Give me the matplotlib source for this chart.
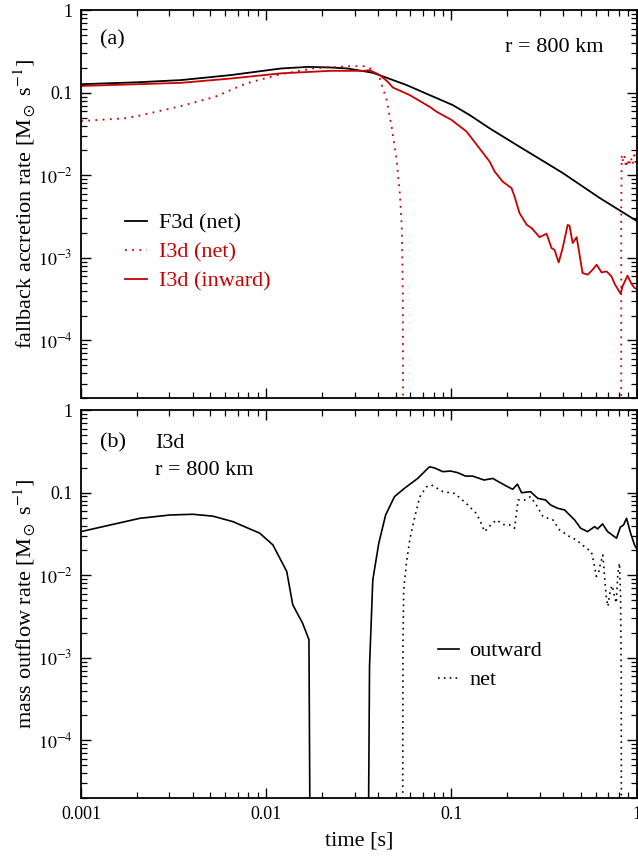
import numpy as np
import matplotlib
matplotlib.use('Agg')
import matplotlib.pyplot as plt
from matplotlib.ticker import LogLocator, FixedLocator, NullFormatter

plt.rcParams['font.family'] = ['Liberation Serif', 'DejaVu Serif']
plt.rcParams['mathtext.fontset'] = 'stix'
plt.rcParams['font.size'] = 16

RED = '#c80000'
FLOOR = 1e-8   # stands for "off the bottom of the plot" (zero / negative rate)

# ---- panel (a): fallback accretion rate ----
t_f3d = [0.001, 0.002, 0.00346, 0.00644, 0.012, 0.0168, 0.022, 0.0275, 0.0376,
         0.0573, 0.0762, 0.1016, 0.1254, 0.1607, 0.225, 0.398, 0.63, 1.0]
f3d_net = [0.127, 0.134, 0.1425, 0.164, 0.197, 0.206, 0.203, 0.197, 0.175,
           0.124, 0.0938, 0.071, 0.0537, 0.0371, 0.0233, 0.0107, 0.00533, 0.0028]

t_i3d_in = [0.001, 0.00346, 0.00644, 0.012, 0.0223, 0.0336, 0.0362, 0.041, 0.0453,
            0.0482, 0.0595, 0.0762, 0.0832, 0.1002, 0.1208, 0.1607, 0.171, 0.189,
            0.211, 0.219, 0.233, 0.255, 0.271, 0.299, 0.326, 0.347, 0.36, 0.379,
            0.398, 0.424, 0.434, 0.451, 0.474, 0.51, 0.543, 0.578, 0.607, 0.646,
            0.687, 0.731, 0.759, 0.818, 0.838, 0.892, 0.936, 0.973, 1.0]
i3d_in = [0.121, 0.132, 0.149, 0.172, 0.1846, 0.1846, 0.188, 0.164, 0.136,
          0.116, 0.0938, 0.0677, 0.0589, 0.0468, 0.0338, 0.01465, 0.0111, 0.00839,
          0.00698, 0.00553, 0.00348, 0.00251, 0.00229, 0.00178, 0.00196, 0.00131,
          0.00125, 0.00088, 0.00131, 0.00251, 0.00244, 0.00151, 0.00178, 0.000655,
          0.000625, 0.000718, 0.000826, 0.000666, 0.000685, 0.000596, 0.000486,
          0.000368, 0.000451, 0.000608, 0.000486, 0.000431, 0.00042]

t_i3d_net = [0.001, 0.0017, 0.002, 0.00346, 0.0053, 0.0078, 0.012, 0.0178, 0.0275,
             0.0349, 0.0376, 0.041, 0.0447, 0.0475, 0.0506, 0.0526, 0.0539, 0.0546,
             0.0553, np.nan,
             0.8245, 0.825, 0.83, 0.845, 0.86, 0.875, 0.89, 0.91, 0.93, 0.95, 0.97, 0.985, 1.0]
i3d_net = [0.0455, 0.049, 0.052, 0.069, 0.0895, 0.13, 0.168, 0.197, 0.21,
           0.21, 0.188, 0.149, 0.0816, 0.0388, 0.0154, 0.0061, 0.0024, 0.00038,
           FLOOR, np.nan,
           FLOOR, 0.004, 0.0177, 0.0145, 0.0168, 0.0125, 0.0155, 0.013, 0.0165, 0.0135,
           0.0175, 0.0145, 0.018]

# ---- panel (b): mass outflow rate (I3d) ----
t_out = [0.001, 0.00208, 0.00302, 0.00402, 0.00515, 0.00661, 0.00923, 0.01086,
         0.0129, 0.0139, 0.0157, 0.017, 0.0175, np.nan,
         0.0349, 0.0361, 0.0376, 0.0405, 0.0441, 0.0492, 0.0557, 0.0657, 0.076,
         0.0809, 0.0897, 0.0991, 0.108, 0.119, 0.13, 0.15, 0.167, 0.193, 0.214,
         0.227, 0.239, 0.267, 0.292, 0.322, 0.343, 0.374, 0.408, 0.462, 0.498,
         0.543, 0.592, 0.615, 0.654, 0.696, 0.757, 0.778, 0.815, 0.849, 0.881,
         0.927, 0.973, 1.0]
outward = [0.0338, 0.049, 0.0537, 0.0548, 0.052, 0.0446, 0.0323, 0.0233,
           0.0111, 0.00439, 0.00263, 0.00166, FLOOR, np.nan,
           FLOOR, 0.000787, 0.0088, 0.0244, 0.0537, 0.0895, 0.113, 0.149, 0.206,
           0.2, 0.18, 0.183, 0.175, 0.159, 0.159, 0.1425, 0.149, 0.124, 0.11,
           0.127, 0.1, 0.103, 0.0855, 0.0816, 0.071, 0.0648, 0.0618, 0.0468, 0.0371,
           0.0338, 0.0388, 0.0364, 0.0419, 0.0338, 0.0294, 0.0281, 0.0382, 0.0407,
           0.049, 0.0323, 0.0233, 0.021]

t_net = [0.0543, 0.0547, 0.0552, 0.0571, 0.0595, 0.0634, 0.0675, 0.0733, 0.078,
         0.09, 0.104, 0.12, 0.136, 0.142, 0.151, 0.164, 0.175, 0.19, 0.206, 0.219,
         0.229, 0.248, 0.267, 0.287, 0.312, 0.353, 0.383, 0.434, 0.472, 0.535,
         0.569, 0.592, 0.605, 0.622, 0.635, 0.656, 0.67, 0.685, 0.699, 0.72,
         0.738, 0.759, 0.775, 0.791, 0.807, 0.818, 0.825, 0.828]
net = [FLOOR, 0.00137, 0.00665, 0.014, 0.0268, 0.0513, 0.0895, 0.118, 0.124,
       0.103, 0.098, 0.0744, 0.0563, 0.0468, 0.0338, 0.0412, 0.0468, 0.0412, 0.0407, 0.0371,
       0.0816, 0.0816, 0.0895, 0.071, 0.0513, 0.0468, 0.0355, 0.0294, 0.0268, 0.0212,
       0.0194, 0.0128, 0.00968, 0.0106, 0.0134, 0.0176, 0.0098, 0.00551, 0.0042, 0.00665,
       0.0075, 0.0055, 0.0046, 0.0106, 0.014, 0.0055, 0.00054, FLOOR]

ytick_vals = [1e-4, 1e-3, 1e-2, 0.1, 1]
ytick_txt = [r'$10^{-4}$', r'$10^{-3}$', r'$10^{-2}$', '0.1', '1']
xtick_vals = [0.001, 0.01, 0.1, 1]
xtick_txt = ['0.001', '0.01', '0.1', '1']


def style_axes(ax, show_x):
    ax.set_xscale('log')
    ax.set_yscale('log')
    ax.set_xlim(0.001, 1)
    ax.set_ylim(2e-5, 1)
    ax.yaxis.set_major_locator(FixedLocator(ytick_vals))
    ax.set_yticklabels(ytick_txt)
    ax.yaxis.set_minor_locator(LogLocator(base=10, subs=np.arange(2, 10)))
    ax.yaxis.set_minor_formatter(NullFormatter())
    ax.xaxis.set_major_locator(FixedLocator(xtick_vals))
    ax.xaxis.set_minor_locator(LogLocator(base=10, subs=np.arange(2, 10)))
    ax.xaxis.set_minor_formatter(NullFormatter())
    if show_x:
        ax.set_xticklabels(xtick_txt)
    else:
        ax.set_xticklabels([])
    ax.tick_params(which='both', direction='in', top=True, right=True, labelsize=13, pad=6)
    ax.tick_params(which='major', length=7.5, width=1.0)
    ax.tick_params(which='minor', length=4.2, width=0.9)
    for s in ax.spines.values():
        s.set_linewidth(1.3)


fig = plt.figure(figsize=(6.38, 8.56), dpi=100)
ax1 = fig.add_axes([0.127, 0.535, 0.871, 0.453])
ax2 = fig.add_axes([0.127, 0.0678, 0.871, 0.453])

ax1.plot(t_f3d, f3d_net, color='black', lw=1.3, label='F3d (net)')
ax1.plot(t_i3d_net, i3d_net, color=RED, lw=1.3, ls=(0, (1, 3)), label='I3d (net)')
ax1.plot(t_i3d_in, i3d_in, color=RED, lw=1.3, label='I3d (inward)')
style_axes(ax1, False)
ax1.set_ylabel(r'fallback accretion rate [M$_\odot$ s$^{-1}$]', fontsize=16, labelpad=0)
ax1.text(0.034, 0.923, '(a)', transform=ax1.transAxes, fontsize=16, va='center', ha='left')
ax1.text(0.941, 0.905, 'r = 800 km', transform=ax1.transAxes, fontsize=16, va='center', ha='right')
ax1.legend(loc='upper left', bbox_to_anchor=(0.08, 0.477), frameon=False, fontsize=16,
           handlelength=0.95, handletextpad=0.55, labelspacing=0.38, borderpad=0,
           borderaxespad=0, labelcolor='linecolor')

ax2.plot(t_out, outward, color='black', lw=1.2, label='outward')
ax2.plot(t_net, net, color='black', lw=1.2, ls=(0, (1, 2.5)), label='net')
style_axes(ax2, True)
ax2.set_ylabel(r'mass outflow rate [M$_\odot$ s$^{-1}$]', fontsize=16, labelpad=0)
ax2.set_xlabel('time [s]', fontsize=16, labelpad=6)
ax2.text(0.034, 0.915, '(b)', transform=ax2.transAxes, fontsize=16, va='center', ha='left')
ax2.text(0.133, 0.915, 'I3d', transform=ax2.transAxes, fontsize=16, va='center', ha='left')
ax2.text(0.133, 0.845, 'r = 800 km', transform=ax2.transAxes, fontsize=16, va='center', ha='left')
ax2.legend(loc='upper left', bbox_to_anchor=(0.643, 0.405), frameon=False, fontsize=16,
           handlelength=0.95, handletextpad=0.45, labelspacing=0.38, borderpad=0,
           borderaxespad=0)

fig.savefig('out.png', dpi=100)
